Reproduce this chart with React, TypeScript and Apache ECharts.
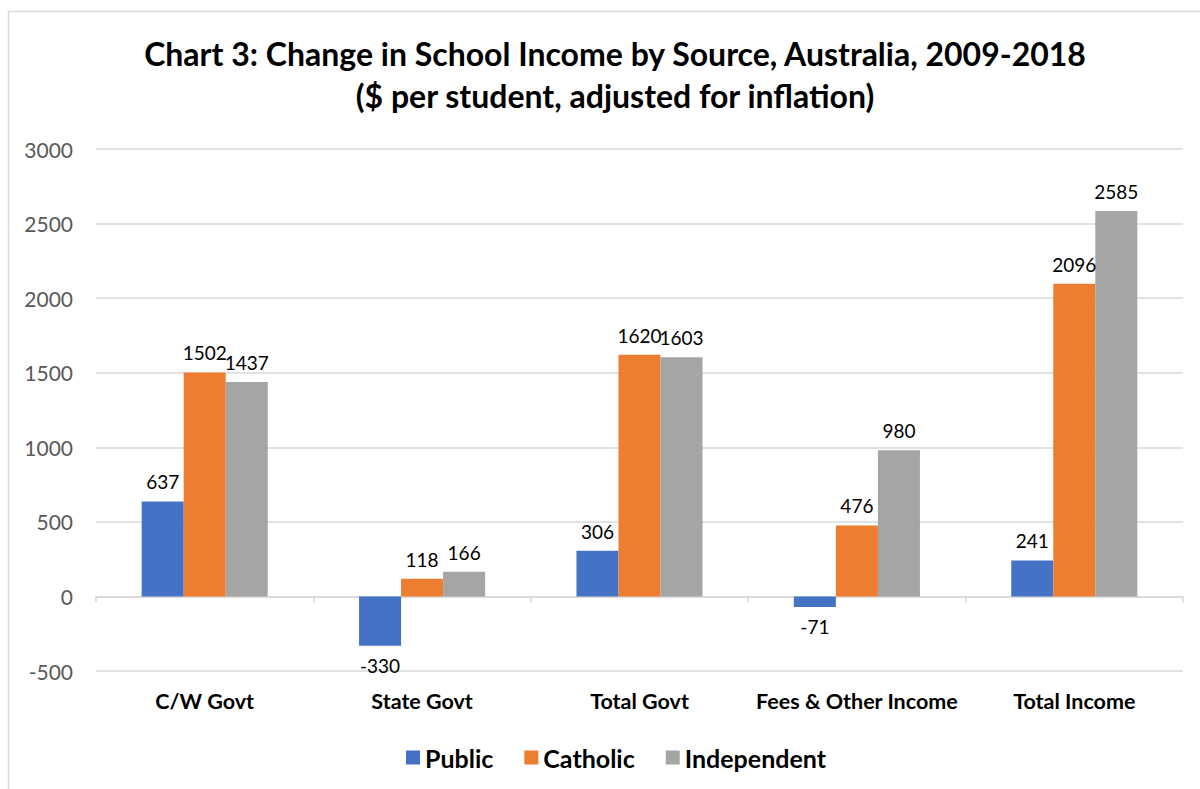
import React, { useEffect, useRef } from "react";
import * as echarts from "echarts";

const categories = ["C/W Govt", "State Govt", "Total Govt", "Fees & Other Income", "Total Income"];
const publicValues = [637, -330, 306, -71, 241];
const catholicValues = [1502, 118, 1620, 476, 2096];
const independentValues = [1437, 166, 1603, 980, 2585];
const seriesNames = ["Public", "Catholic", "Independent"];
const titleLines = ["Chart 3: Change in School Income by Source, Australia, 2009-2018", "($ per student, adjusted for inflation)"];

const FONT = "Lato, 'Noto Sans', sans-serif";
const colors = ["#4472C4", "#ED7D31", "#A5A5A5"];

function makeData(vals: number[]) {
  return vals.map((v) => (v < 0 ? { value: v, label: { position: "bottom" } } : v));
}

export default function App() {
  const ref = useRef<HTMLDivElement>(null);
  useEffect(() => {
    if (!ref.current) return;
    const chart = echarts.init(ref.current, null, { renderer: "svg" });
    const valueSets = [publicValues, catholicValues, independentValues];
    chart.setOption({
      animation: false,
      backgroundColor: "#fff",
      color: colors,
      title: {
        text: titleLines.join("\n"),
        left: 610,
        textAlign: "center",
        top: 27,
        textStyle: { fontFamily: FONT, fontWeight: "bold", fontSize: 32, lineHeight: 42, color: "#000" },
      },
      graphic: [
        {
          type: "rect",
          shape: { x: 8.5, y: 11.5, width: 1230, height: 820 },
          style: { fill: "none", stroke: "#D9D9D9", lineWidth: 1.5 },
          silent: true,
        },
      ],
      legend: {
        data: seriesNames,
        left: 401,
        top: 740,
        itemWidth: 14,
        itemHeight: 14,
        itemGap: 31,
        icon: "rect",
        textStyle: { fontFamily: FONT, fontWeight: "bold", fontSize: 25, color: "#000" },
      },
      grid: { left: 96, right: 17, top: 149, bottom: 118, containLabel: false },
      xAxis: [
        {
          type: "category",
          data: categories,
          position: "bottom",
          axisLine: { show: false, onZero: false },
          axisTick: { show: false },
          axisLabel: { margin: 19, fontFamily: FONT, fontWeight: "bold", fontSize: 21.5, color: "#000", interval: 0 },
        },
        {
          type: "category",
          data: categories,
          position: "bottom",
          axisLine: { show: true, onZero: true, lineStyle: { color: "#D9D9D9", width: 1.5 } },
          axisTick: { show: true, length: 6, lineStyle: { color: "#D9D9D9", width: 1.5 } },
          axisLabel: { show: false },
        },
      ],
      yAxis: {
        type: "value",
        min: -500,
        max: 3000,
        interval: 500,
        axisLine: { show: false },
        axisTick: { show: false },
        axisLabel: { margin: 23, fontFamily: FONT, fontSize: 21, color: "#595959", formatter: (v: number) => String(v) },
        splitLine: { lineStyle: { color: "#D9D9D9", width: 1.5 } },
      },
      series: seriesNames.map((name, i) => ({
        name,
        type: "bar",
        xAxisIndex: 0,
        data: makeData(valueSets[i]),
        barGap: "0%",
        barCategoryGap: "42%",
        itemStyle: { color: colors[i] },
        label: {
          show: true,
          position: "top",
          distance: 10,
          fontFamily: FONT,
          fontSize: 19,
          color: "#000",
        },
      })),
    });
    return () => chart.dispose();
  }, []);
  return <div ref={ref} style={{ position: "fixed", left: 0, top: 0, width: 1200, height: 789 }} />;
}
